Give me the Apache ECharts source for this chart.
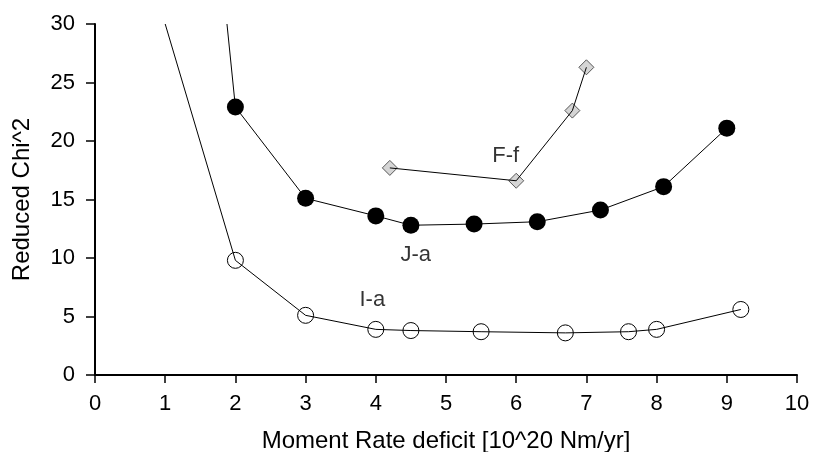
<!DOCTYPE html>
<html>
<head>
<meta charset="utf-8">
<script src="https://cdn.jsdelivr.net/npm/echarts@6/dist/echarts.min.js"></script>
<style>html,body{margin:0;padding:0;background:#fff}#c{width:814px;height:452px}</style>
</head>
<body>
<div id="c"></div>
<script>
// I-a (open circles); first point is the line's entry from above the plot
const iaX = [1.0, 2.0, 3.0, 4.0, 4.5, 5.5, 6.7, 7.6, 8.0, 9.2];
const iaY = [30.0, 9.8, 5.1, 3.9, 3.8, 3.7, 3.6, 3.7, 3.9, 5.6];
// J-a (filled circles); first point is the line's entry from above the plot
const jaX = [1.88, 2.0, 3.0, 4.0, 4.5, 5.4, 6.3, 7.2, 8.1, 9.0];
const jaY = [30.0, 22.9, 15.1, 13.6, 12.8, 12.9, 13.1, 14.1, 16.1, 21.1];
// F-f (grey diamonds)
const ffX = [4.2, 6.0, 6.8, 7.0];
const ffY = [17.7, 16.6, 22.6, 26.3];
// curve labels
const labelNames = ['F-f', 'J-a', 'I-a'];
const labelX = [5.85, 4.57, 3.95];
const labelY = [18.75, 10.25, 6.45];
const xTicks = [0, 10, 1];
const yTicks = [0, 30, 5];

const FONT = 'Liberation Sans, Arial, sans-serif';
function pts(xs, ys, hideFirst) {
  return xs.map((x, i) => (hideFirst && i === 0) ? {value: [x, ys[i]], symbol: 'none'} : [x, ys[i]]);
}
const chart = echarts.init(document.getElementById('c'), null, {renderer: 'canvas'});
chart.setOption({
  animation: false,
  backgroundColor: '#ffffff',
  grid: {left: 95, right: 17, top: 24, bottom: 77, containLabel: false, outerBoundsMode: 'none'},
  xAxis: {
    type: 'value', min: xTicks[0], max: xTicks[1], interval: xTicks[2],
    name: 'Moment Rate deficit [10^20 Nm/yr]', nameLocation: 'middle', nameGap: 54,
    nameTextStyle: {fontFamily: FONT, fontSize: 24, color: '#000'},
    axisLine: {show: true, lineStyle: {color: '#000', width: 2}},
    axisTick: {show: true, inside: false, length: 8, lineStyle: {color: '#000', width: 1.5}},
    axisLabel: {fontFamily: FONT, fontSize: 22, color: '#000', margin: 18},
    splitLine: {show: false}
  },
  yAxis: {
    type: 'value', min: yTicks[0], max: yTicks[1], interval: yTicks[2],
    name: 'Reduced Chi^2', nameLocation: 'middle', nameGap: 61,
    nameTextStyle: {fontFamily: FONT, fontSize: 24, color: '#000'},
    axisLine: {show: true, lineStyle: {color: '#000', width: 2}},
    axisTick: {show: true, inside: false, length: 9, lineStyle: {color: '#000', width: 1.5}},
    axisLabel: {fontFamily: FONT, fontSize: 22, color: '#000', margin: 20},
    splitLine: {show: false}
  },
  series: [
    {
      name: 'I-a', type: 'line', data: pts(iaX, iaY, true), clip: true,
      symbol: 'circle', symbolSize: 16,
      lineStyle: {color: '#000', width: 1},
      itemStyle: {color: 'rgba(255,255,255,0)', borderColor: '#000', borderWidth: 1}
    },
    {
      name: 'J-a', type: 'line', data: pts(jaX, jaY, true), clip: true,
      symbol: 'circle', symbolSize: 17,
      lineStyle: {color: '#000', width: 1},
      itemStyle: {color: '#000', borderColor: '#000', borderWidth: 0}
    },
    {
      name: 'F-f markers', type: 'scatter', data: pts(ffX, ffY, false), z: 2,
      symbol: 'diamond', symbolSize: 15,
      itemStyle: {color: '#cbcbcb', borderColor: '#333', borderWidth: 1}
    },
    {
      name: 'F-f', type: 'line', data: pts(ffX, ffY, false), z: 3,
      showSymbol: false, symbol: 'none',
      lineStyle: {color: '#000', width: 1}
    },
    {
      name: 'labels', type: 'scatter', z: 4, symbolSize: 0, silent: true,
      data: labelNames.map((n, i) => ({name: n, value: [labelX[i], labelY[i]]})),
      label: {show: true, position: 'inside', formatter: p => p.name,
        fontFamily: FONT, fontSize: 22, color: '#000'}
    }
  ]
});
</script>
</body>
</html>
